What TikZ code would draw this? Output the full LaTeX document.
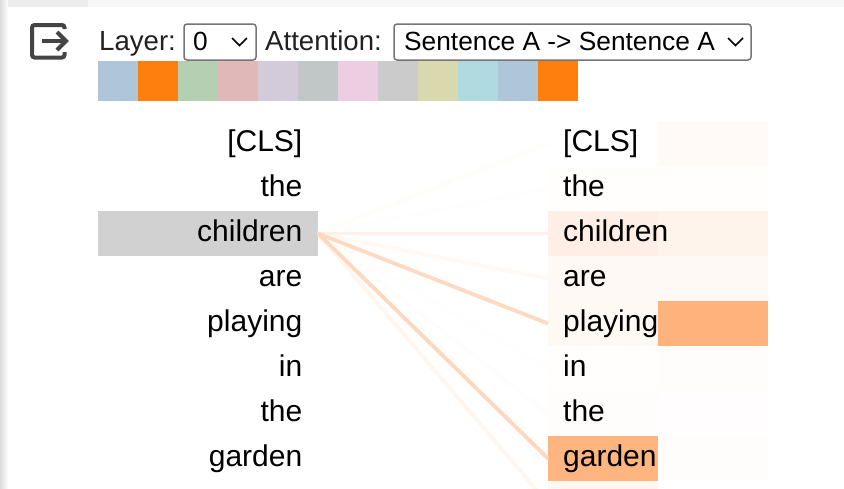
\documentclass[tikz,border=0pt]{standalone}
\usepackage{fontspec}
\setmainfont{Liberation Sans}
\tikzset{x=1pt,y=-1pt,
  word/.style={inner sep=0pt,font=\fontsize{30}{31}\selectfont,text=black,anchor=base west},
  wordright/.style={word,anchor=base east},
  head/.style={inner sep=0pt,font=\fontsize{27.6}{28}\selectfont,anchor=base west,text=black!87},
  choice/.style={inner sep=0pt,font=\fontsize{26.3}{27}\selectfont,anchor=base west},
  selectbox/.style={draw=selgray,line width=1.5pt,rounded corners=3pt,fill=white},
  swatch/.style={minimum width=40pt,minimum height=40pt,inner sep=0pt,outer sep=0pt,anchor=north west},
  cell/.style={minimum width=110pt,minimum height=45pt,inner sep=0pt,outer sep=0pt,anchor=north west},
  link/.style={line width=3.8pt}}
\definecolor{selgray}{HTML}{767676}
\definecolor{icongray}{HTML}{444444}
\begin{document}
\begin{tikzpicture}
  \useasboundingbox (0,0) rectangle (844,488);
  \fill[white] (0,0) rectangle (844,488);
  % page edges
  \fill[black!3] (0,0) rectangle (844,7);
  \fill[black!7] (8,0) rectangle (88,7);
  \shade[left color=black!14,right color=white] (0,0) rectangle (8,488);

  % export icon
  \draw[icongray,line width=4pt,rounded corners=2.5pt] (64.5,29) -- (64.5,25) -- (32,25) -- (32,57.5) -- (64.5,57.5) -- (64.5,52);
  \draw[icongray,line width=4pt] (42,41) -- (65,41);
  \draw[icongray,line width=4pt] (57,32) -- (66,41) -- (57,50);

  % header
  \node[head] (layerlabel) at (99,50.5) {Layer:};
  \node[head] (attnlabel) at (265,50.5) {Attention:};
  \draw[selectbox] (184,24) rectangle (256,60);
  \node[choice] (layerval) at (193,50.5) {0};
  \draw[line width=1.5pt] (232,38) -- (239.5,45.5) -- (247,38);
  \draw[selectbox] (394,24) rectangle (751,60);
  \node[choice] (attnval) at (404,50.5) {Sentence A -> Sentence A};
  \draw[line width=1.5pt] (728,38) -- (735.5,45.5) -- (743,38);

  % palette
  \node[swatch,fill={rgb,255:red,174;green,197;blue,218}] (sa) at (98,61) {};
  \node[swatch,fill={rgb,255:red,255;green,127;blue,14}] (sb) at (138,61) {};
  \node[swatch,fill={rgb,255:red,181;green,207;blue,179}] (sc) at (178,61) {};
  \node[swatch,fill={rgb,255:red,224;green,184;blue,184}] (sd) at (218,61) {};
  \node[swatch,fill={rgb,255:red,211;green,203;blue,217}] (se) at (258,61) {};
  \node[swatch,fill={rgb,255:red,193;green,198;blue,198}] (sf) at (298,61) {};
  \node[swatch,fill={rgb,255:red,237;green,205;blue,226}] (sg) at (338,61) {};
  \node[swatch,fill={rgb,255:red,203;green,203;blue,203}] (sh) at (378,61) {};
  \node[swatch,fill={rgb,255:red,216;green,217;blue,173}] (si) at (418,61) {};
  \node[swatch,fill={rgb,255:red,175;green,218;blue,224}] (sj) at (458,61) {};
  \node[swatch,fill={rgb,255:red,175;green,197;blue,218}] (sk) at (498,61) {};
  \node[swatch,fill={rgb,255:red,255;green,127;blue,14}] (sl) at (538,61) {};

  % left highlight
  \node[minimum width=220pt,minimum height=45pt,inner sep=0pt,outer sep=0pt,anchor=north west,fill=black!18] (lhl) at (98,211) {};

  % attention cells, left half and right half
  \node[cell,fill={rgb,255:red,255;green,255;blue,255}] (acls) at (548,121) {};
  \node[cell,fill={rgb,255:red,255;green,250;blue,247}] (bcls) at (658,121) {};
  \node[cell,fill={rgb,255:red,255;green,254;blue,253}] (athe) at (548,166) {};
  \node[cell,fill={rgb,255:red,255;green,254;blue,253}] (bthe) at (658,166) {};
  \node[cell,fill={rgb,255:red,255;green,238;blue,229}] (achildren) at (548,211) {};
  \node[cell,fill={rgb,255:red,255;green,244;blue,236}] (bchildren) at (658,211) {};
  \node[cell,fill={rgb,255:red,255;green,249;blue,245}] (aare) at (548,256) {};
  \node[cell,fill={rgb,255:red,255;green,249;blue,245}] (bare) at (658,256) {};
  \node[cell,fill={rgb,255:red,255;green,249;blue,244}] (aplaying) at (548,301) {};
  \node[cell,fill={rgb,255:red,255;green,178;blue,123}] (bplaying) at (658,301) {};
  \node[cell,fill={rgb,255:red,255;green,254;blue,253}] (ain) at (548,346) {};
  \node[cell,fill={rgb,255:red,255;green,253;blue,252}] (bin) at (658,346) {};
  \node[cell,fill={rgb,255:red,255;green,253;blue,251}] (atwo) at (548,391) {};
  \node[cell,fill={rgb,255:red,255;green,253;blue,253}] (btwo) at (658,391) {};
  \node[cell,fill={rgb,255:red,255;green,181;blue,127}] (agarden) at (548,436) {};
  \node[cell,fill={rgb,255:red,255;green,253;blue,252}] (bgarden) at (658,436) {};
  \node[cell,fill={rgb,255:red,255;green,247;blue,240}] (asep) at (548,481) {};

  % connectors
  \coordinate (src) at (318,233.5);
  \draw[link,draw={rgb,255:red,255;green,252;blue,249}] (src) -- (acls.west);
  \draw[link,draw={rgb,255:red,255;green,254;blue,253}] (src) -- (athe.west);
  \draw[link,draw={rgb,255:red,255;green,254;blue,252}] (src) -- (ain.west);
  \draw[link,draw={rgb,255:red,255;green,253;blue,251}] (src) -- (atwo.west);
  \draw[link,draw={rgb,255:red,255;green,246;blue,239}] (src) -- (asep.west);
  \draw[link,draw={rgb,255:red,255;green,248;blue,243}] (src) -- (aare.west);
  \draw[link,draw={rgb,255:red,255;green,241;blue,233}] (src) -- (achildren.west);
  \draw[link,draw={rgb,255:red,255;green,217;blue,192}] (src) -- (aplaying.west);
  \draw[link,draw={rgb,255:red,255;green,215;blue,188}] (src) -- (agarden.west);

  % left words
  \node[wordright] (lcls) at (302.5,151) {[CLS]};
  \node[wordright] (lthe) at (302.5,196) {the};
  \node[wordright] (lchildren) at (302.5,241) {children};
  \node[wordright] (lare) at (302.5,286) {are};
  \node[wordright] (lplaying) at (302.5,331) {playing};
  \node[wordright] (lin) at (302.5,376) {in};
  \node[wordright] (ltwo) at (302.5,421) {the};
  \node[wordright] (lgarden) at (302.5,466) {garden};

  % right words
  \node[word] (rcls) at (563,151) {[CLS]};
  \node[word] (rthe) at (563,196) {the};
  \node[word] (rchildren) at (563,241) {children};
  \node[word] (rare) at (563,286) {are};
  \node[word] (rplaying) at (563,331) {playing};
  \node[word] (rin) at (563,376) {in};
  \node[word] (rtwo) at (563,421) {the};
  \node[word] (rgarden) at (563,466) {garden};
\end{tikzpicture}
\end{document}
